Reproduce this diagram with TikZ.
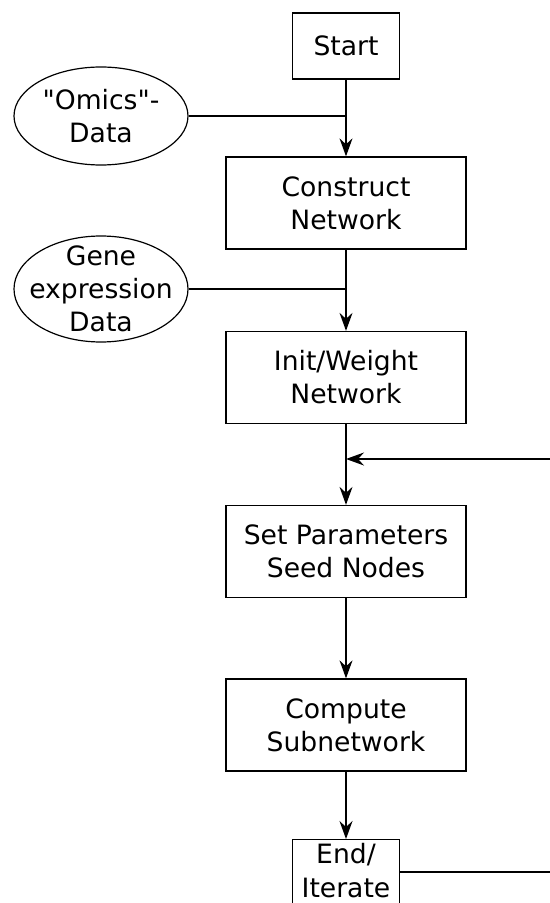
\documentclass[tikz,border=0pt]{standalone}
\usepackage{fontspec}
\setmainfont[Ligatures=TeXOff]{DejaVu Sans}
\usepackage{tikz}
\usetikzlibrary{arrows.meta}
\usetikzlibrary{shapes.geometric}

\tikzset{
  stepbox/.style={draw, line width=0.65pt, minimum width=120pt, minimum height=46pt,
    align=center, inner sep=0pt},
  smallbox/.style={draw, line width=0.65pt, minimum width=53.5pt, align=center,
    inner sep=0pt},
  inputdata/.style={draw, ellipse, line width=0.6pt, minimum width=87pt, align=center,
    inner sep=-8pt},
  flow/.style={line width=0.65pt, -{Stealth[length=9pt, width=6.5pt, inset=3pt]}},
  plain/.style={line width=0.65pt}
}

\begin{document}
\begin{tikzpicture}[x=0.5pt, y=-0.5pt,
    font=\fontsize{13.3}{16.5}\selectfont]
        \useasboundingbox (0, 0) rectangle (550, 903);
        \clip (0, 0) rectangle (550, 903);

        \node[smallbox, minimum height=33pt] (start) at (346, 46) {Start};
        \node[stepbox] (construct) at (346, 203) {Construct\\Network};
        \node[stepbox] (init) at (346, 377.5) {Init/Weight\\Network};
        \node[stepbox] (params) at (346, 551.5) {Set Parameters\\Seed Nodes};
        \node[stepbox] (compute) at (346, 725) {Compute\\Subnetwork};
        \node[smallbox, inner ysep=2pt, text depth=20pt, anchor=north] (endit)
          at (346, 839) {End/\\[0.5pt]Iterate};

        \node[inputdata, minimum height=49pt] (omics) at (101, 116) {"Omics"-\\Data};
        \node[inputdata, minimum height=53pt] (gene) at (101, 289)
          {Gene\\expression\\Data};

        \draw[flow] (start) -- (construct);
        \draw[plain] (omics.east) -- (omics.east -| start.south);

        \draw[flow] (construct) -- (init);
        \draw[plain] (gene.east) -- (gene.east -| construct.south);

        \draw[flow] (init) -- (params);
        \draw[flow] (params) -- (compute);
        \draw[flow] (compute) -- (endit);

        % loop back, runs out past the right edge
        \coordinate (out) at ([yshift=-16.5pt]endit.north east);
        \coordinate (back) at (346, 459);
        \draw[flow] (out) -- ++(200, 0) |- (back);
      \end{tikzpicture}
\end{document}
